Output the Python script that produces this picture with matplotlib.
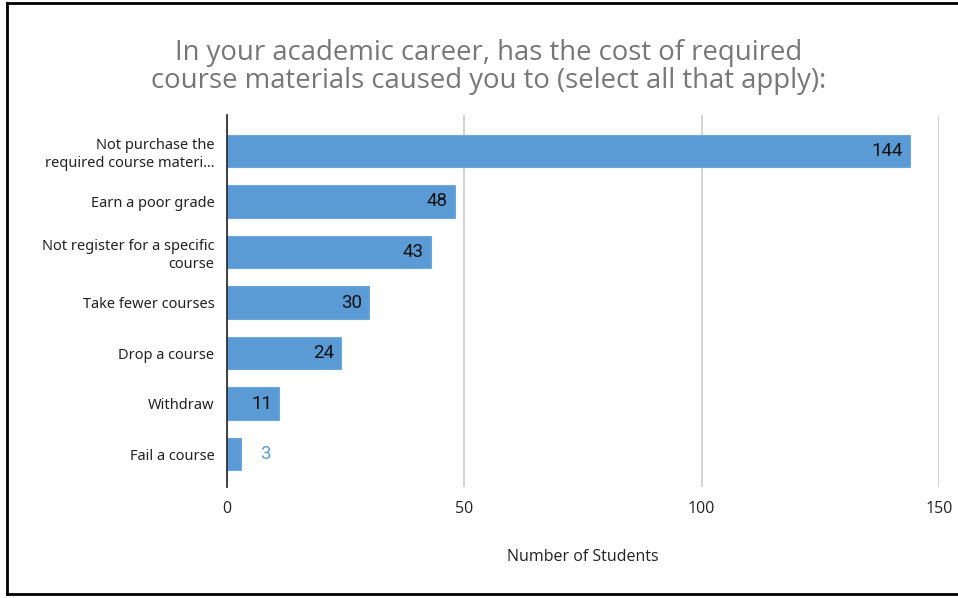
import numpy as np
from matplotlib import pyplot as plt
from matplotlib.lines import Line2D

categories = [
    'Not purchase the\nrequired course materi...',
    'Earn a poor grade',
    'Not register for a specific\ncourse',
    'Take fewer courses',
    'Drop a course',
    'Withdraw',
    'Fail a course',
]
counts = [144, 48, 43, 30, 24, 11, 3]
x_ticks = [0, 50, 100, 150]

bar_color = '#5b9bd5'


def main():
    fig = plt.figure(figsize=(9.58, 5.98), dpi=100)
    ax = fig.add_axes([0.237, 0.1856, 0.743, 0.622])

    y = np.arange(len(categories))
    ax.barh(y, counts, height=0.64, color=bar_color, edgecolor='#6fa8dc',
            linewidth=0.8, zorder=3)

    ax.set_xlim(0, 150)
    ax.set_ylim(6.65, -0.71)
    ax.set_xticks(x_ticks)
    ax.set_xticklabels([str(t) for t in x_ticks], fontsize=11.5,
                       family='Open Sans', color='#222222')
    ax.set_yticks(y)
    ax.set_yticklabels(categories, fontsize=10.5, family='Noto Sans',
                       color='#222222', linespacing=1.25)
    ax.tick_params(axis='both', length=0)
    ax.tick_params(axis='y', pad=9)
    ax.tick_params(axis='x', pad=10)

    ax.grid(axis='x', color='#cccccc', linewidth=1.2, zorder=0)
    for side in ['top', 'right', 'bottom']:
        ax.spines[side].set_visible(False)
    ax.spines['left'].set_color('#222222')
    ax.spines['left'].set_linewidth(1.2)
    ax.spines['left'].set_zorder(4)

    # value labels: inside the bar end, or outside when the bar is short
    for yi, v in zip(y, counts):
        if v >= 10:
            ax.text(v - 1.5, yi, str(v), ha='right', va='center',
                    fontsize=13.5, family='Roboto', color='#111111', zorder=5)
        else:
            ax.text(v + 5, yi, str(v), ha='center', va='center',
                    fontsize=13.5, family='Roboto', color=bar_color, zorder=5)

    ax.set_xlabel('Number of Students', fontsize=11.5, family='Open Sans',
                  color='#222222', labelpad=23)

    fig.text(0.51, 0.888, 'In your academic career, has the cost of required\n'
             'course materials caused you to (select all that apply):',
             ha='center', va='center', fontsize=19.8, family='Open Sans',
             color='#777777', linespacing=1.0)

    # outer frame
    for xs, ys in [([0.007, 0.007], [0.006, 0.995]),
                   ([0.007, 1.0], [0.995, 0.995]),
                   ([0.007, 1.0], [0.006, 0.006])]:
        fig.add_artist(Line2D(xs, ys, transform=fig.transFigure,
                              color='black', linewidth=2))

    fig.savefig('out.png', dpi=100)


if __name__ == "__main__":
    main()
